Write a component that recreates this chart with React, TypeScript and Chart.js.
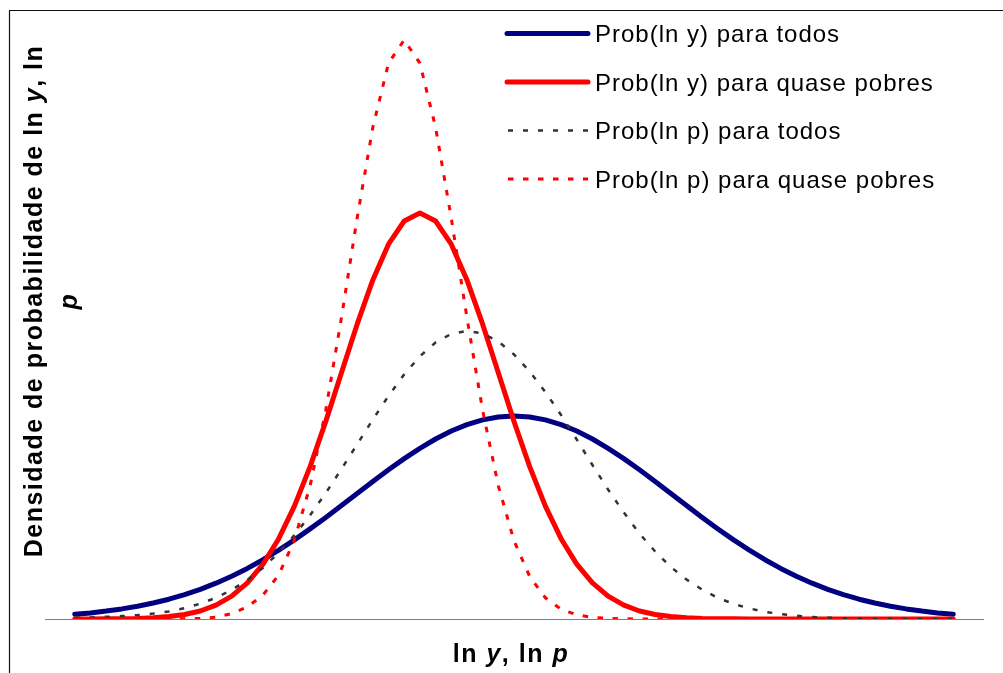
import React, { useEffect, useRef } from 'react';
import { Chart, registerables } from 'chart.js';

Chart.register(...registerables);

// Point positions along the ln y / ln p axis (category index, 57 points)
const pointIndex: number[] = Array.from({ length: 57 }, (_, i) => i);

// Series values (arbitrary density units)
const probLnYTodos = [
  4.7, 6.1, 7.9, 10.1, 12.7, 16.0, 19.8, 24.4, 29.7, 35.8, 42.8, 50.6, 59.3, 68.9, 79.1, 90.1,
  101.6, 113.5, 125.5, 137.6, 149.2, 160.4, 170.7, 180.0, 188.0, 194.4, 199.1, 202.0, 203,
  202.0, 199.1, 194.4, 188.0, 180.0, 170.7, 160.4, 149.2, 137.6, 125.5, 113.5, 101.6, 90.1,
  79.1, 68.9, 59.3, 50.6, 42.8, 35.8, 29.7, 24.4, 19.8, 16.0, 12.7, 10.1, 7.9, 6.1, 4.7,
];

const probLnYQuasePobres = [
  0.03, 0.06, 0.14, 0.3, 0.6, 1.3, 2.4, 4.5, 8.0, 13.8, 22.8, 36.1, 54.9, 80.3, 112.9, 152.4,
  197.6, 246.2, 294.8, 339.1, 374.8, 398.0, 406, 398.0, 374.8, 339.1, 294.8, 246.2, 197.6,
  152.4, 112.9, 80.3, 54.9, 36.1, 22.8, 13.8, 8.0, 4.5, 2.4, 1.3, 0.6, 0.3, 0.14, 0.06, 0.03,
  0, 0, 0, 0, 0, 0, 0, 0, 0, 0, 0, 0,
];

const probLnPTodos = [
  1.2, 1.6, 2.2, 2.9, 3.9, 5.4, 7.6, 10.9, 15.3, 21.2, 29.0, 39.0, 51.3, 66.3, 83.8, 103.8,
  126.0, 149.9, 174.7, 199.5, 223.1, 244.6, 262.7, 276.5, 285.1, 288, 285.5, 277.5, 264.5,
  247.5, 227.0, 204.0, 179.5, 154.0, 129.5, 106.5, 85.5, 67.5, 52.0, 39.5, 29.3, 21.1, 15.1,
  10.6, 7.2, 4.9, 3.2, 2.1, 1.3, 0.8, 0.5, 0.3, 0.2, 0.1, 0.05, 0.03, 0.02,
];

const probLnPQuasePobres = [
  0, 0, 0, 0, 0, 0, 0.06, 0.2, 0.6, 1.8, 5.5, 12.0, 24.0, 44.0, 79.0, 133.2, 208.7, 301.4,
  401.0, 491.7, 555.8, 579, 555.8, 491.7, 401.0, 301.4, 208.7, 133.2, 78.3, 42.5, 21.2, 9.8,
  4.1, 1.6, 0.6, 0.2, 0.06, 0, 0, 0, 0, 0, 0, 0, 0, 0, 0, 0, 0, 0, 0, 0, 0, 0, 0, 0, 0,
];

const seriesLabels = [
  'Prob(ln y) para todos',
  'Prob(ln y) para quase pobres',
  'Prob(ln p) para todos',
  'Prob(ln p) para quase pobres',
];

const FONT = '"Liberation Sans", Arial, Helvetica, sans-serif';

type Seg = { text: string; italic?: boolean };

function drawSegments(ctx: CanvasRenderingContext2D, segs: Seg[], cx: number, baseline: number, size: number, spacing: string) {
  const fontFor = (s: Seg) => `${s.italic ? 'italic ' : ''}bold ${size}px ${FONT}`;
  (ctx as any).letterSpacing = spacing;
  let total = 0;
  const widths = segs.map((s) => {
    ctx.font = fontFor(s);
    const w = ctx.measureText(s.text).width;
    total += w;
    return w;
  });
  let x = cx - total / 2;
  ctx.textAlign = 'left';
  ctx.textBaseline = 'alphabetic';
  segs.forEach((s, i) => {
    ctx.font = fontFor(s);
    ctx.fillText(s.text, x, baseline);
    x += widths[i];
  });
}

const decorPlugin = {
  id: 'decor',
  afterDraw(chart: any) {
    const ctx: CanvasRenderingContext2D = chart.ctx;
    ctx.save();

    // chart frame (only top and left edges visible)
    ctx.strokeStyle = '#111';
    ctx.lineWidth = 1.2;
    ctx.beginPath();
    ctx.moveTo(9.5, 680);
    ctx.lineTo(9.5, 10.5);
    ctx.lineTo(1010, 10.5);
    ctx.stroke();

    // legend
    const legendTop = 33.5;
    const legendGap = 48.5;
    chart.data.datasets.forEach((ds: any, i: number) => {
      const y = legendTop + i * legendGap;
      ctx.save();
      ctx.strokeStyle = ds.borderColor;
      ctx.lineWidth = ds.borderWidth;
      const dash = ds.borderDash || [];
      ctx.setLineDash(dash);
      ctx.lineCap = dash.length ? 'butt' : 'round';
      ctx.beginPath();
      ctx.moveTo(dash.length ? 508 : 507, y);
      ctx.lineTo(588, y);
      ctx.stroke();
      ctx.restore();
      ctx.save();
      (ctx as any).letterSpacing = '1px';
      ctx.font = `24px ${FONT}`;
      ctx.fillStyle = '#000';
      ctx.textAlign = 'left';
      ctx.textBaseline = 'alphabetic';
      ctx.fillText(ds.label, 595, y + 8.5);
      ctx.restore();
    });

    // x axis title
    ctx.fillStyle = '#000';
    drawSegments(
      ctx,
      [{ text: 'ln ' }, { text: 'y', italic: true }, { text: ', ln ' }, { text: 'p', italic: true }],
      511,
      662,
      25,
      '1.5px'
    );

    // y axis title (two lines, rotated)
    ctx.save();
    ctx.translate(41.7, 301);
    ctx.rotate(-Math.PI / 2);
    drawSegments(
      ctx,
      [{ text: 'Densidade de probabilidade de ln ' }, { text: 'y', italic: true }, { text: ', ln' }],
      0,
      0,
      25,
      '1.5px'
    );
    drawSegments(ctx, [{ text: 'p', italic: true }], 0, 35, 25, '1.5px');
    ctx.restore();

    ctx.restore();
  },
};

export default function App() {
  const canvasRef = useRef<HTMLCanvasElement | null>(null);

  useEffect(() => {
    if (!canvasRef.current) return;
    const toPoints = (vals: number[]) => vals.map((v, i) => ({ x: pointIndex[i], y: v }));
    const chart = new Chart(canvasRef.current, {
      type: 'line',
      data: {
        datasets: [
          {
            label: seriesLabels[0],
            data: toPoints(probLnYTodos),
            borderColor: '#000080',
            borderWidth: 5,
            pointRadius: 0,
            tension: 0,
            fill: false,
            borderJoinStyle: 'round',
            borderCapStyle: 'round',
            order: 4,
          },
          {
            label: seriesLabels[1],
            data: toPoints(probLnYQuasePobres),
            borderColor: '#FF0000',
            borderWidth: 5,
            pointRadius: 0,
            tension: 0,
            fill: false,
            borderJoinStyle: 'round',
            borderCapStyle: 'round',
            order: 3,
          },
          {
            label: seriesLabels[2],
            data: toPoints(probLnPTodos),
            borderColor: '#333333',
            borderWidth: 2.5,
            borderDash: [5, 10],
            pointRadius: 0,
            tension: 0,
            fill: false,
            order: 2,
          },
          {
            label: seriesLabels[3],
            data: toPoints(probLnPQuasePobres),
            borderColor: '#FF0000',
            borderWidth: 3,
            borderDash: [5.5, 9.5],
            pointRadius: 0,
            tension: 0,
            fill: false,
            order: 1,
          },
        ],
      },
      options: {
        animation: false,
        responsive: true,
        maintainAspectRatio: false,
        events: [],
        layout: { padding: { left: 45, right: 20, top: 0, bottom: 0 } },
        plugins: {
          legend: { display: false },
          tooltip: { enabled: false },
          title: { display: false },
        },
        scales: {
          x: {
            type: 'linear',
            min: -1.9,
            max: 57.9,
            ticks: { display: false },
            grid: { display: false },
            border: { display: true, color: '#808080', width: 1 },
            afterFit: (scale: any) => {
              scale.height = 54;
            },
          },
          y: {
            type: 'linear',
            display: false,
            min: 0,
            max: 619,
          },
        },
      } as any,
      plugins: [decorPlugin],
    });
    return () => chart.destroy();
  }, []);

  return (
    <div style={{ position: 'fixed', left: 0, top: 0, width: 1003, height: 673, background: '#fff' }}>
      <canvas ref={canvasRef} />
    </div>
  );
}
